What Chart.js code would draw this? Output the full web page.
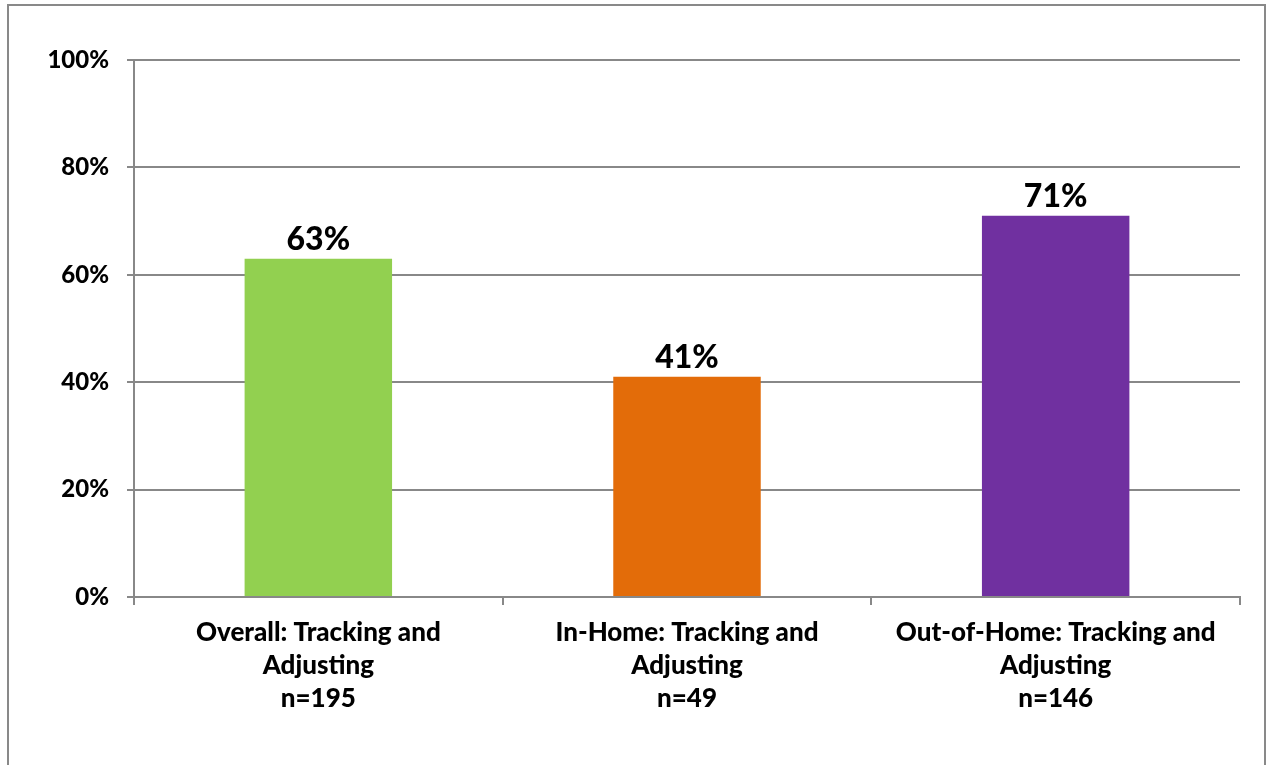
<!DOCTYPE html>
<html>
<head>
<meta charset="utf-8">
<script src="https://cdn.jsdelivr.net/npm/chart.js@4"></script>
<style>
  html, body { margin: 0; padding: 0; background: #fff; }
  #wrap { position: relative; width: 1270px; height: 765px; overflow: hidden; }
  #frame { position: absolute; left: 7px; top: 4px; width: 1259px; height: 800px;
           border: 2px solid #898989; box-sizing: border-box; }
  canvas { position: absolute; left: 0; top: 0; }
</style>
</head>
<body>
<div id="wrap">
  <div id="frame"></div>
  <canvas id="trackChart" width="1270" height="765"></canvas>
</div>
<script>
const categories = [
  ["Overall: Tracking and", "Adjusting", "n=195"],
  ["In-Home: Tracking and", "Adjusting", "n=49"],
  ["Out-of-Home: Tracking and", "Adjusting", "n=146"]
];
const percents = [63, 41, 71];
const barColors = ["#92D050", "#E36C09", "#7030A0"];
const yTicks = [0, 20, 40, 60, 80, 100];

const FONT = "Lato, 'Open Sans', sans-serif";

// value labels above each bar
const valueLabels = {
  id: "valueLabels",
  afterDatasetsDraw(chart) {
    const ctx = chart.ctx;
    const meta = chart.getDatasetMeta(0);
    ctx.save();
    ctx.font = "900 32px " + FONT;
    ctx.fillStyle = "#000";
    ctx.textAlign = "center";
    ctx.textBaseline = "bottom";
    meta.data.forEach((bar, i) => {
      ctx.fillText(percents[i] + "%", bar.x, bar.y - 3);
    });
    ctx.restore();
  }
};

new Chart(document.getElementById("trackChart"), {
  type: "bar",
  data: {
    labels: categories,
    datasets: [{
      data: percents,
      backgroundColor: barColors,
      categoryPercentage: 1,
      barPercentage: 0.4
    }]
  },
  options: {
    responsive: false,
    animation: false,
    layout: { padding: { top: 60, right: 30, left: 0, bottom: 0 } },
    plugins: { legend: { display: false }, tooltip: { enabled: false } },
    scales: {
      y: {
        min: 0,
        max: 100,
        afterFit(scale) { scale.width = 134; },
        afterBuildTicks(scale) { scale.ticks = yTicks.map(v => ({ value: v })); },
        ticks: {
          callback: v => v + "%",
          color: "#000",
          font: { family: FONT, size: 24, weight: "900" },
          padding: 18
        },
        grid: { color: "#888", lineWidth: 2, tickLength: 7 },
        border: { color: "#888", width: 2 }
      },
      x: {
        afterFit(scale) { scale.height = 168; },
        ticks: {
          color: "#000",
          font: { family: FONT, size: 26, weight: "900", lineHeight: 1.27 },
          padding: 11
        },
        grid: { offset: true, drawOnChartArea: false, color: "#888", lineWidth: 2, tickLength: 8 },
        border: { color: "#888", width: 2 }
      }
    }
  },
  plugins: [valueLabels]
});
</script>
</body>
</html>
